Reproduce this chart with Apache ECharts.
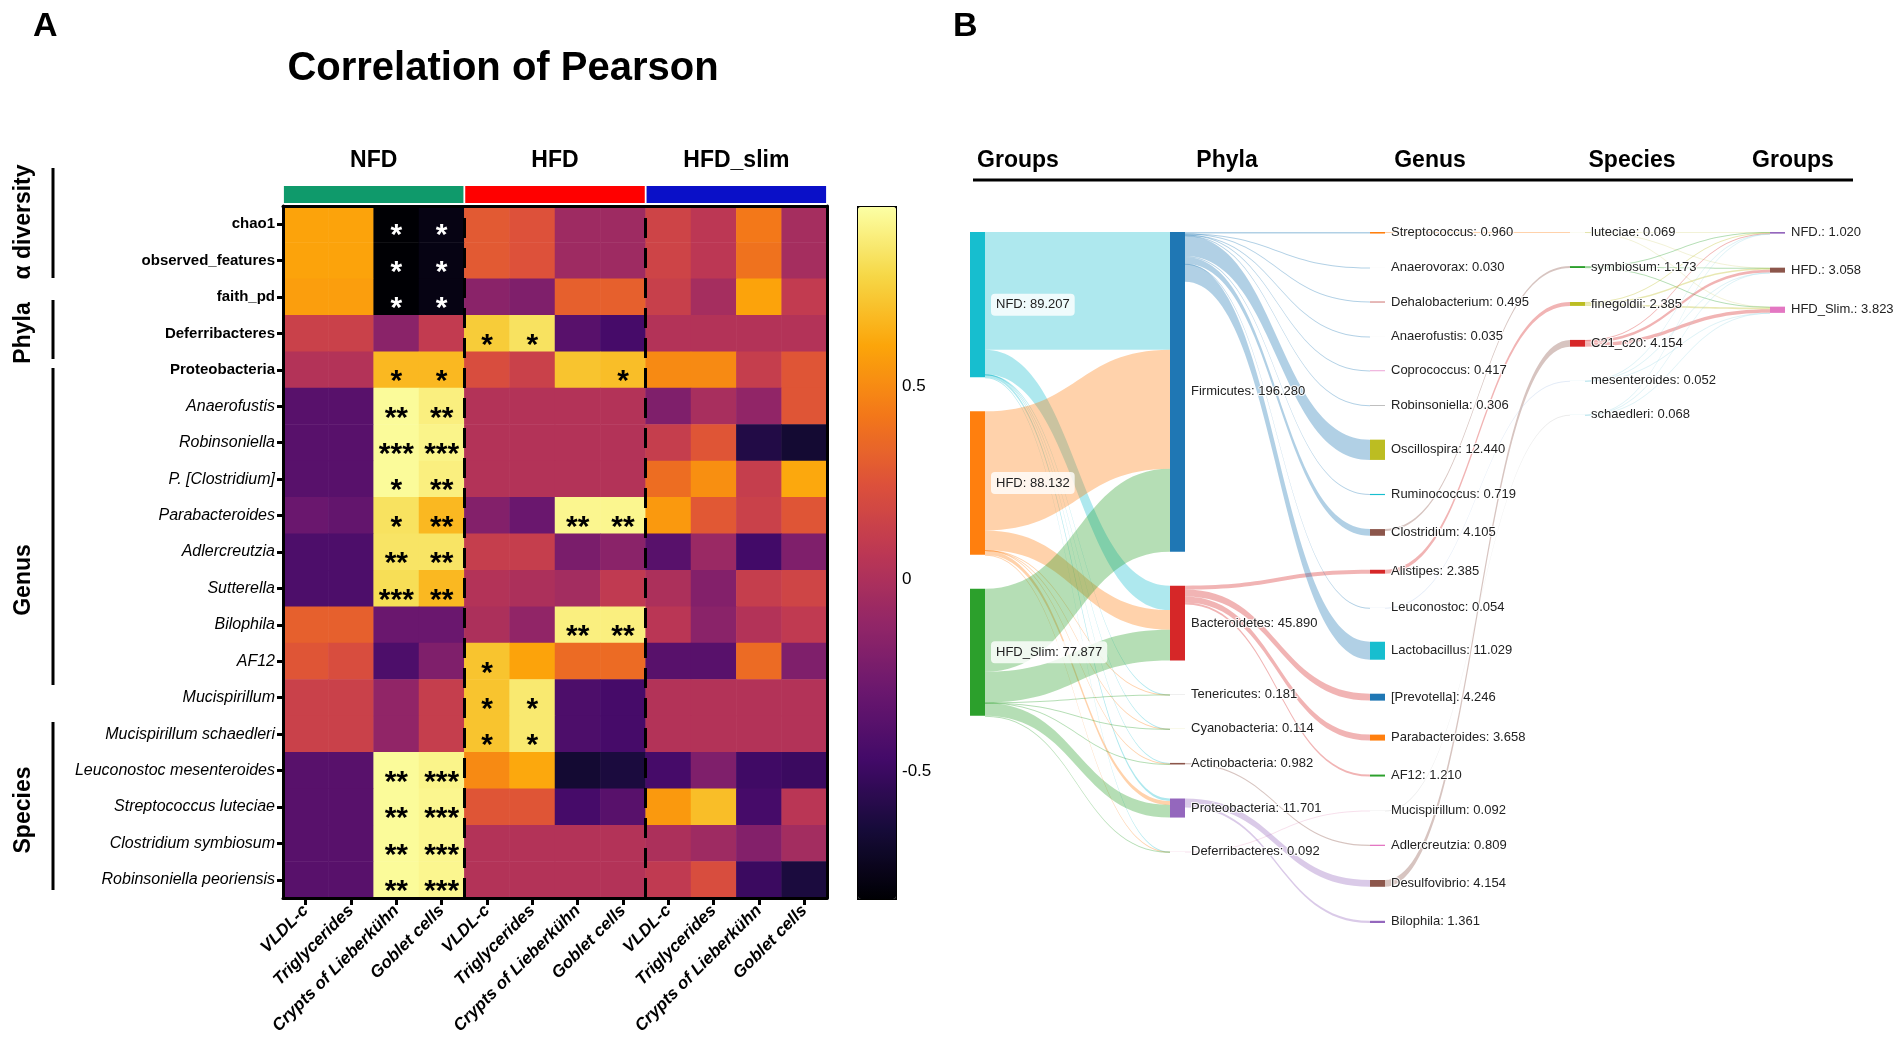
<!DOCTYPE html>
<html>
<head>
<meta charset="utf-8">
<script src="https://cdn.jsdelivr.net/npm/echarts@6/dist/echarts.min.js"></script>
<style>
html, body { margin: 0; padding: 0; background: #fff; }
#main { width: 1902px; height: 1048px; }
</style>
</head>
<body>
<div id="main"></div>
<script>
// ---------------- Panel A data ----------------
const heatGroups = ['NFD', 'HFD', 'HFD_slim'];
const heatColumns = [
  'VLDL-c', 'Triglycerides', 'Crypts of Lieberkühn', 'Goblet cells',
  'VLDL-c', 'Triglycerides', 'Crypts of Lieberkühn', 'Goblet cells',
  'VLDL-c', 'Triglycerides', 'Crypts of Lieberkühn', 'Goblet cells'
];
const heatRows = [
  'chao1', 'observed_features', 'faith_pd', 'Deferribacteres', 'Proteobacteria',
  'Anaerofustis', 'Robinsoniella', 'P. [Clostridium]', 'Parabacteroides', 'Adlercreutzia',
  'Sutterella', 'Bilophila', 'AF12', 'Mucispirillum', 'Mucispirillum schaedleri',
  'Leuconostoc mesenteroides', 'Streptococcus luteciae', 'Clostridium symbiosum', 'Robinsoniella peoriensis'
];
const boldRowCount = 5;
const heatValues = [
  [0.60, 0.60, -0.83, -0.78,  0.29, 0.25, -0.06, -0.06,  0.16, 0.07, 0.43, -0.03],
  [0.60, 0.60, -0.83, -0.78,  0.29, 0.25, -0.06, -0.06,  0.16, 0.07, 0.40, -0.03],
  [0.58, 0.58, -0.83, -0.78, -0.15, -0.20, 0.32, 0.32,  0.13, -0.03, 0.60, 0.10],
  [0.14, 0.14, -0.15, 0.10,  0.75, 0.84, -0.37, -0.45,  0.03, 0.03, 0.03, 0.03],
  [0.03, 0.03, 0.68, 0.68,  0.22, 0.14, 0.72, 0.70,  0.50, 0.50, 0.12, 0.27],
  [-0.37, -0.37, 0.95, 0.90,  0.03, 0.03, 0.03, 0.03,  -0.20, -0.02, -0.12, 0.27],
  [-0.37, -0.37, 0.95, 0.92,  0.03, 0.03, 0.03, 0.03,  0.12, 0.27, -0.60, -0.67],
  [-0.37, -0.37, 0.95, 0.90,  0.03, 0.03, 0.03, 0.03,  0.38, 0.52, 0.12, 0.62],
  [-0.29, -0.32, 0.84, 0.68,  -0.18, -0.29, 0.93, 0.93,  0.56, 0.28, 0.14, 0.27],
  [-0.42, -0.42, 0.85, 0.85,  0.12, 0.12, -0.22, -0.15,  -0.37, -0.08, -0.47, -0.20],
  [-0.42, -0.42, 0.82, 0.68,  0.03, 0.00, -0.04, 0.09,  0.00, -0.18, 0.12, 0.17],
  [0.32, 0.32, -0.29, -0.29,  0.00, -0.12, 0.90, 0.90,  0.06, -0.15, 0.03, 0.09],
  [0.27, 0.22, -0.42, -0.20,  0.72, 0.60, 0.37, 0.37,  -0.37, -0.37, 0.37, -0.20],
  [0.14, 0.14, -0.12, 0.12,  0.72, 0.87, -0.42, -0.45,  0.03, 0.03, 0.03, 0.03],
  [0.14, 0.14, -0.12, 0.12,  0.72, 0.87, -0.42, -0.45,  0.03, 0.03, 0.03, 0.03],
  [-0.37, -0.37, 0.95, 0.92,  0.50, 0.62, -0.67, -0.63,  -0.45, -0.20, -0.48, -0.50],
  [-0.37, -0.37, 0.95, 0.93,  0.27, 0.27, -0.45, -0.37,  0.56, 0.70, -0.45, 0.06],
  [-0.37, -0.37, 0.95, 0.93,  0.03, 0.03, 0.03, 0.03,  0.00, -0.06, -0.18, -0.04],
  [-0.37, -0.37, 0.95, 0.93,  0.03, 0.03, 0.03, 0.03,  0.09, 0.22, -0.50, -0.63]
];
const heatStars = [
  ['', '', '*', '*',  '', '', '', '',  '', '', '', ''],
  ['', '', '*', '*',  '', '', '', '',  '', '', '', ''],
  ['', '', '*', '*',  '', '', '', '',  '', '', '', ''],
  ['', '', '', '',  '*', '*', '', '',  '', '', '', ''],
  ['', '', '*', '*',  '', '', '', '*',  '', '', '', ''],
  ['', '', '**', '**',  '', '', '', '',  '', '', '', ''],
  ['', '', '***', '***',  '', '', '', '',  '', '', '', ''],
  ['', '', '*', '**',  '', '', '', '',  '', '', '', ''],
  ['', '', '*', '**',  '', '', '**', '**',  '', '', '', ''],
  ['', '', '**', '**',  '', '', '', '',  '', '', '', ''],
  ['', '', '***', '**',  '', '', '', '',  '', '', '', ''],
  ['', '', '', '',  '', '', '**', '**',  '', '', '', ''],
  ['', '', '', '',  '*', '', '', '',  '', '', '', ''],
  ['', '', '', '',  '*', '*', '', '',  '', '', '', ''],
  ['', '', '', '',  '*', '*', '', '',  '', '', '', ''],
  ['', '', '**', '***',  '', '', '', '',  '', '', '', ''],
  ['', '', '**', '***',  '', '', '', '',  '', '', '', ''],
  ['', '', '**', '***',  '', '', '', '',  '', '', '', ''],
  ['', '', '**', '***',  '', '', '', '',  '', '', '', '']
];
const colorMin = -0.83;
const colorMax = 0.97;
const colorbarTicks = [-0.5, 0, 0.5];

// ---------------- Panel B data ----------------
const sankeyHeaders = ['Groups', 'Phyla', 'Genus', 'Species', 'Groups'];
const groupNames = ['NFD', 'HFD', 'HFD_Slim'];
const groupValues = [89.207, 88.132, 77.877];
const phylaNames = ['Firmicutes', 'Bacteroidetes', 'Tenericutes', 'Cyanobacteria', 'Actinobacteria', 'Proteobacteria', 'Deferribacteres'];
const phylaValues = [196.280, 45.890, 0.181, 0.114, 0.982, 11.701, 0.092];
const genusNames = ['Streptococcus', 'Anaerovorax', 'Dehalobacterium', 'Anaerofustis', 'Coprococcus', 'Robinsoniella',
  'Oscillospira', 'Ruminococcus', 'Clostridium', 'Alistipes', 'Leuconostoc', 'Lactobacillus', '[Prevotella]',
  'Parabacteroides', 'AF12', 'Mucispirillum', 'Adlercreutzia', 'Desulfovibrio', 'Bilophila'];
const genusValues = [0.960, 0.030, 0.495, 0.035, 0.417, 0.306, 12.440, 0.719, 4.105, 2.385, 0.054, 11.029, 4.246,
  3.658, 1.210, 0.092, 0.809, 4.154, 1.361];
const genusPhylum = ['Firmicutes', 'Firmicutes', 'Firmicutes', 'Firmicutes', 'Firmicutes', 'Firmicutes',
  'Firmicutes', 'Firmicutes', 'Firmicutes', 'Bacteroidetes', 'Firmicutes', 'Firmicutes', 'Bacteroidetes',
  'Bacteroidetes', 'Bacteroidetes', 'Deferribacteres', 'Actinobacteria', 'Proteobacteria', 'Proteobacteria'];
const speciesNames = ['luteciae', 'symbiosum', 'finegoldii', 'C21_c20', 'mesenteroides', 'schaedleri'];
const speciesValues = [0.069, 1.173, 2.385, 4.154, 0.052, 0.068];
const speciesGenus = ['Streptococcus', 'Clostridium', 'Alistipes', 'Desulfovibrio', 'Leuconostoc', 'Mucispirillum'];
const endGroupNames = ['NFD.', 'HFD.', 'HFD_Slim.'];
const endGroupValues = [1.020, 3.058, 3.823];
// flow values group -> phylum (rows: groups, columns: phyla)
const groupToPhylum = [
  [72.272, 15.000, 0.060, 0.040, 0.330, 1.500, 0.005],
  [73.132, 12.000, 0.060, 0.040, 0.320, 2.500, 0.080],
  [50.852, 18.890, 0.061, 0.034, 0.332, 7.701, 0.007]
];
// flow values species -> end group (rows: species, columns: groups)
const speciesToGroup = [
  [0.025, 0.020, 0.024],
  [0.320, 0.380, 0.473],
  [0.420, 0.880, 1.085],
  [0.230, 1.718, 2.206],
  [0.020, 0.010, 0.022],
  [0.005, 0.050, 0.013]
];

// ---------------- styles ----------------
const FONT = '"Liberation Sans", Arial, sans-serif';
const inferno = ['#000004', '#160b39', '#420a68', '#6a176e', '#932667', '#bc3754', '#dd513a', '#f37819', '#fca50a', '#f6d746', '#fcffa4'];
const headerBarColors = ['#0f9a6b', '#ff0000', '#0a10c8'];
const groupColors = ['#17becf', '#ff7f0e', '#2ca02c'];
const phylaColors = ['#1f77b4', '#d62728', '#c7c7c7', '#dbdb8d', '#8c564b', '#9467bd', '#e7a6c8'];
const genusColors = ['#ff7f0e', '#c7c7c7', '#c0504d', '#dddddd', '#e377c2', '#7f7f7f', '#bcbd22', '#17becf', '#8c564b',
  '#d62728', '#aec7e8', '#17becf', '#1f77b4', '#ff7f0e', '#2ca02c', '#c7c7c7', '#e377c2', '#8c564b', '#9467bd'];
const speciesColors = ['#dbdb8d', '#2ca02c', '#bcbd22', '#d62728', '#9edae5', '#9edae5'];
const endGroupColors = ['#9467bd', '#8c564b', '#e377c2'];

// ---------------- build heatmap data ----------------
const heatData = [];
heatValues.forEach(function (row, r) {
  row.forEach(function (v, c) {
    const item = { value: [c, r, v] };
    if (v < -0.6) item.label = { color: '#fff' };
    heatData.push(item);
  });
});
const perGroup = heatColumns.length / heatGroups.length;
const groupBoundaries = [];
for (let g = 1; g < heatGroups.length; g++) groupBoundaries.push({ xAxis: g * perGroup });

// ---------------- build sankey data ----------------
const sankeyNodes = [];
const labelBox = { backgroundColor: 'rgba(255,255,255,0.8)', borderRadius: 4, padding: [5, 5, 4, 5], textBorderWidth: 0 };
groupNames.forEach((n, i) => sankeyNodes.push({ name: n, value: groupValues[i], itemStyle: { color: groupColors[i] }, label: labelBox }));
phylaNames.forEach((n, i) => sankeyNodes.push({ name: n, value: phylaValues[i], itemStyle: { color: phylaColors[i] } }));
genusNames.forEach((n, i) => sankeyNodes.push({ name: n, value: genusValues[i], itemStyle: { color: genusColors[i] } }));
speciesNames.forEach((n, i) => sankeyNodes.push({ name: n, value: speciesValues[i], itemStyle: { color: speciesColors[i] } }));
endGroupNames.forEach((n, i) => sankeyNodes.push({ name: n, value: endGroupValues[i], itemStyle: { color: endGroupColors[i] } }));

const sankeyLinks = [];
groupNames.forEach((g, gi) => phylaNames.forEach((p, pi) => {
  sankeyLinks.push({ source: g, target: p, value: groupToPhylum[gi][pi] });
}));
genusNames.forEach((g, i) => sankeyLinks.push({ source: genusPhylum[i], target: g, value: genusValues[i] }));
speciesNames.forEach((s, i) => sankeyLinks.push({ source: speciesGenus[i], target: s, value: speciesValues[i] }));
speciesNames.forEach((s, si) => endGroupNames.forEach((g, gi) => {
  sankeyLinks.push({ source: s, target: g, value: speciesToGroup[si][gi] });
}));

// ---------------- layout constants (geometry) ----------------
const HM = { left: 283, top: 206, width: 544, height: 692 };
const SK = { left: 970, top: 232, width: 815, height: 691 };

const chart = echarts.init(document.getElementById('main'));

const graphic = [
  { type: 'text', left: 33, top: 10, style: { text: 'A', font: 'bold 34px ' + FONT, fill: '#000' } },
  { type: 'text', x: 503, y: 69, style: { text: 'Correlation of Pearson', font: 'bold 40px ' + FONT, fill: '#000', align: 'center', verticalAlign: 'middle' } },
  { type: 'text', left: 953, top: 10, style: { text: 'B', font: 'bold 34px ' + FONT, fill: '#000' } },
  // row group brackets
  { type: 'line', shape: { x1: 53, y1: 168, x2: 53, y2: 278 }, style: { stroke: '#000', lineWidth: 3 } },
  { type: 'line', shape: { x1: 53, y1: 300, x2: 53, y2: 359 }, style: { stroke: '#000', lineWidth: 3 } },
  { type: 'line', shape: { x1: 53, y1: 368, x2: 53, y2: 685 }, style: { stroke: '#000', lineWidth: 3 } },
  { type: 'line', shape: { x1: 53, y1: 722, x2: 53, y2: 890 }, style: { stroke: '#000', lineWidth: 3 } },
  { type: 'text', x: 24, y: 222, rotation: Math.PI / 2, style: { text: 'α diversity', font: 'bold 23px ' + FONT, fill: '#000', align: 'center', verticalAlign: 'middle' } },
  { type: 'text', x: 24, y: 333, rotation: Math.PI / 2, style: { text: 'Phyla', font: 'bold 23px ' + FONT, fill: '#000', align: 'center', verticalAlign: 'middle' } },
  { type: 'text', x: 24, y: 580, rotation: Math.PI / 2, style: { text: 'Genus', font: 'bold 23px ' + FONT, fill: '#000', align: 'center', verticalAlign: 'middle' } },
  { type: 'text', x: 24, y: 810, rotation: Math.PI / 2, style: { text: 'Species', font: 'bold 23px ' + FONT, fill: '#000', align: 'center', verticalAlign: 'middle' } },
  // sankey header underline
  { type: 'line', shape: { x1: 973, y1: 180, x2: 1853, y2: 180 }, style: { stroke: '#000', lineWidth: 3 } }
];
const headerX = [1018, 1227, 1430, 1632, 1793];
sankeyHeaders.forEach((h, i) => graphic.push({
  type: 'text', x: headerX[i], y: 161,
  style: { text: h, font: 'bold 23px ' + FONT, fill: '#000', align: 'center', verticalAlign: 'middle' }
}));

const option = {
  animation: false,
  backgroundColor: '#fff',
  textStyle: { fontFamily: FONT },
  graphic: graphic,
  grid: [
    { left: HM.left, top: HM.top, width: HM.width, height: HM.height, show: false },
    { left: 857, top: HM.top, width: 38, height: HM.height, show: false },
    { left: HM.left, top: 186, width: HM.width, height: 17, show: false }
  ],
  xAxis: [
    {
      gridIndex: 0, type: 'category', data: heatColumns, z: 4,
      axisLine: { show: true, lineStyle: { color: '#000', width: 3 } },
      axisTick: { show: true, alignWithLabel: true, length: 7, lineStyle: { color: '#000', width: 3 } },
      axisLabel: { interval: 0, rotate: 45, fontSize: 17, fontStyle: 'italic', fontWeight: 'bold', color: '#000', margin: 10 },
      splitLine: { show: false }
    },
    {
      gridIndex: 0, type: 'value', min: 0, max: heatColumns.length, position: 'top', z: 4,
      axisLine: { show: true, onZero: false, lineStyle: { color: '#000', width: 3 } },
      axisTick: { show: false }, axisLabel: { show: false }, splitLine: { show: false }
    },
    { gridIndex: 1, type: 'value', show: false, min: 0, max: 1 },
    {
      gridIndex: 2, type: 'category', data: heatGroups, position: 'top',
      axisLine: { show: false }, axisTick: { show: false },
      axisLabel: { fontSize: 23, fontWeight: 'bold', color: '#000', margin: 14 }
    }
  ],
  yAxis: [
    {
      gridIndex: 0, type: 'category', data: heatRows, inverse: true, z: 4,
      axisLine: { show: true, lineStyle: { color: '#000', width: 3 } },
      axisTick: { show: true, alignWithLabel: true, length: 6, lineStyle: { color: '#000', width: 3 } },
      axisLabel: {
        interval: 0, margin: 8,
        formatter: function (v, i) { return i < boldRowCount ? '{b|' + v + '}' : '{i|' + v + '}'; },
        rich: {
          b: { fontWeight: 'bold', fontSize: 15, color: '#000', fontFamily: FONT },
          i: { fontStyle: 'italic', fontSize: 16, color: '#000', fontFamily: FONT }
        }
      },
      splitLine: { show: false }
    },
    {
      gridIndex: 0, type: 'value', min: 0, max: 1, position: 'right', z: 4,
      axisLine: { show: true, onZero: false, lineStyle: { color: '#000', width: 3 } },
      axisTick: { show: false }, axisLabel: { show: false }, splitLine: { show: false }
    },
    {
      gridIndex: 1, type: 'value', min: colorMin, max: colorMax, position: 'right',
      axisLine: { show: false },
      axisTick: { show: true, inside: false, length: 5, customValues: colorbarTicks, lineStyle: { color: '#000', width: 2 } },
      axisLabel: { customValues: colorbarTicks, fontSize: 17, color: '#000', margin: 7 },
      splitLine: { show: false }
    },
    { gridIndex: 2, type: 'value', min: 0, max: 1, show: false }
  ],
  visualMap: {
    type: 'continuous', seriesIndex: 0, dimension: 2,
    min: colorMin, max: colorMax, calculable: false, orient: 'vertical',
    left: 857, top: HM.top, itemWidth: 38, itemHeight: HM.height,
    padding: 0, borderColor: '#000', borderWidth: 2,
    inRange: { color: inferno }, hoverLink: false
  },
  series: [
    {
      type: 'heatmap', xAxisIndex: 0, yAxisIndex: 0, data: heatData, z: 2,
      itemStyle: { borderWidth: 0 },
      emphasis: { disabled: true },
      label: {
        show: true, fontSize: 30, fontWeight: 'bold', color: '#000', offset: [0, 12], fontFamily: FONT,
        formatter: function (p) { return heatStars[p.value[1]][p.value[0]]; }
      }
    },
    {
      type: 'scatter', xAxisIndex: 1, yAxisIndex: 1, data: [], z: 5, silent: true,
      markLine: {
        silent: true, symbol: 'none', animation: false,
        label: { show: false },
        lineStyle: { color: '#000', width: 3, type: [20, 10] },
        emphasis: { disabled: true },
        data: groupBoundaries
      }
    },
    {
      type: 'bar', xAxisIndex: 3, yAxisIndex: 3, barWidth: '99%', silent: true,
      data: heatGroups.map((g, i) => ({ value: 1, itemStyle: { color: headerBarColors[i] } }))
    },
    {
      type: 'sankey',
      left: SK.left, top: SK.top, width: SK.width, height: SK.height,
      nodeWidth: 15, nodeGap: 34, layoutIterations: 0, nodeAlign: 'left', draggable: false,
      data: sankeyNodes, links: sankeyLinks,
      emphasis: { disabled: true },
      lineStyle: { color: 'source', opacity: 0.35, curveness: 0.5 },
      itemStyle: { borderWidth: 0 },
      label: {
        show: true, position: 'right', distance: 6, fontSize: 13, color: '#222',
        textBorderColor: 'rgba(255,255,255,0.85)', textBorderWidth: 2,
        formatter: function (p) { return p.name + ': ' + Number(p.value).toFixed(3); }
      }
    }
  ]
};
chart.setOption(option);
</script>
</body>
</html>
